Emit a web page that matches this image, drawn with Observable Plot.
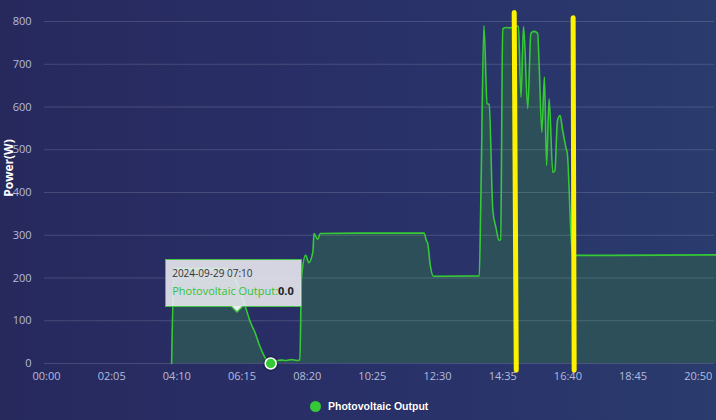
<!DOCTYPE html>
<html>
<head>
<meta charset="utf-8">
<script src="https://cdn.jsdelivr.net/npm/d3@7"></script>
<script src="https://cdn.jsdelivr.net/npm/@observablehq/plot@0.6"></script>
<style>
  html, body { margin: 0; padding: 0; }
  body {
    width: 716px; height: 420px; overflow: hidden; position: relative;
    background: linear-gradient(90deg, #27295d 0%, #293169 55%, #2a3b6d 100%);
    font-family: "Open Sans", sans-serif;
  }
  #chart { position: absolute; left: 0; top: 0; }
  #ytitle {
    position: absolute; left: 8px; top: 168px; white-space: nowrap;
    transform: translate(-50%, -50%) rotate(-90deg);
    color: #ffffff; font: bold 12px "Open Sans", sans-serif;
  }
  #tip {
    position: absolute; box-sizing: border-box; width: 137px; height: 48px;
    background: rgba(236, 237, 242, 0.88); border: 1px solid #45c445;
    padding: 4px 0 0 6px; font-size: 10px; color: #333; line-height: 18px;
  }
  #tip .name { color: #33c233; font-size: 11px; }
  #tip .val { color: #222; font-weight: bold; font-size: 11px; }
  #tip::before, #tip::after {
    content: ""; position: absolute; width: 0; height: 0; border-style: solid;
  }
  #tip::before {
    left: 65px; bottom: -7px;
    border-width: 6px 6px 0 6px; border-color: #45c445 transparent transparent transparent;
  }
  #tip::after {
    left: 66px; bottom: -5px;
    border-width: 5px 5px 0 5px; border-color: rgb(236, 237, 242) transparent transparent transparent;
  }
  #legend {
    position: absolute; left: 310px; top: 398px; height: 16px; display: flex; align-items: center;
    color: #ffffff; font: bold 10.5px "Liberation Sans", Arial, sans-serif;
    text-shadow: 0 0 1px #1a1d44;
  }
  #legend .dot { width: 11px; height: 11px; border-radius: 50%; background: #35c935; margin-right: 7px; }
</style>
</head>
<body>
<div id="chart"></div>
<div id="ytitle">Power(W)</div>
<div id="tip"></div>
<div id="legend"><span class="dot"></span><span id="legendName"></span></div>
<script>
// Photovoltaic output over the day (time of day, watts)
const seriesName = "Photovoltaic Output";
const dateLabel = "2024-09-29";
const times = [
  "04:00", "04:05", "05:45", "05:55", "06:05", "06:15", "06:22", "06:30", "06:40", "06:50",
  "07:00", "07:05", "07:10", "07:20", "07:30", "07:40", "07:50", "08:00", "08:06", "08:09",
  "08:17", "08:23", "08:31", "08:33", "08:40", "08:45", "10:00", "12:04", "12:09", "12:11",
  "12:16", "12:22", "13:50", "13:53", "13:59", "14:05", "14:09", "14:16", "14:22", "14:28",
  "14:31", "14:35", "14:43", "14:49", "15:00", "15:05", "15:10", "15:15", "15:23", "15:29",
  "15:35", "15:42", "15:45", "15:50", "15:55", "15:59", "16:04", "16:11", "16:15", "16:20",
  "16:25", "16:30", "16:36", "16:39", "16:46", "16:49", "18:00", "21:25"
];
const power = [
  0, 222, 222, 212, 190, 158, 131, 100, 72, 38,
  12, 4, 0, 6, 8, 7, 9, 7, 8, 200,
  253, 236, 262, 304, 290, 304, 305, 305, 286, 282,
  230, 204, 205, 380, 790, 608, 606, 358, 318, 288,
  290, 783, 786, 785, 790, 788, 623, 788, 596, 772,
  777, 772, 693, 541, 670, 463, 619, 447, 451, 568,
  580, 545, 506, 490, 300, 253, 253, 254
];
const xTickLabels = ["00:00", "02:05", "04:10", "06:15", "08:20", "10:25", "12:30", "14:35", "16:40", "18:45", "20:50"];
const yTicks = [0, 100, 200, 300, 400, 500, 600, 700, 800];

// Highlighted reading shown in the tooltip
const hoverTime = "07:10";
const hoverValue = 0;

// Two yellow marker strokes drawn across the chart (start/end time and power)
const markerStart = ["14:57", "16:50"];
const markerEnd = ["15:01", "16:52"];
const markerTop = [821, 809];
const markerBottom = [-16, -16];

const toMin = s => { const [h, m] = s.split(":").map(Number); return h * 60 + m; };
const fmt = m => String(Math.floor(m / 60)).padStart(2, "0") + ":" + String(m % 60).padStart(2, "0");

const data = times.map((t, i) => ({t: toMin(t), p: power[i]}));
const markers = markerStart.map((s, i) => ({
  x1: toMin(s), x2: toMin(markerEnd[i]), y1: markerTop[i], y2: markerBottom[i]
}));
const hover = [{t: toMin(hoverTime), p: hoverValue}];

const green = "#35c935";

const chart = Plot.plot({
  width: 716,
  height: 390,
  marginLeft: 46,
  marginRight: 0,
  marginTop: 21,
  marginBottom: 27,
  style: {background: "transparent", fontFamily: "Open Sans, sans-serif", fontSize: "11px", color: "#b4bcdc", overflow: "visible"},
  x: {domain: [0, 1285]},
  y: {domain: [0, 800]},
  marks: [
    Plot.areaY(data, {x: "t", y: "p", fill: "#2c4f5a", curve: "monotone-x"}),
    Plot.ruleY(yTicks, {stroke: "#ffffff", strokeOpacity: 0.15, dx: -2}),
    Plot.axisY(yTicks, {tickSize: 0, tickPadding: 15, label: null, fill: "#b4bcdc"}),
    Plot.axisX(xTickLabels.map(toMin), {tickSize: 0, tickPadding: 9, tickFormat: fmt, label: null, fill: "#b4bcdc"}),
    Plot.lineY(data, {x: "t", y: "p", stroke: green, strokeWidth: 1.6, curve: "monotone-x"}),
    Plot.link(markers, {x1: "x1", y1: "y1", x2: "x2", y2: "y2", stroke: "#fff200", strokeWidth: 5, strokeLinecap: "round"}),
    Plot.dot(hover, {x: "t", y: "p", r: 8, fill: "#000000", fillOpacity: 0.18}),
    Plot.dot(hover, {x: "t", y: "p", r: 5.5, fill: green, stroke: "#ffffff", strokeWidth: 1.5})
  ]
});
document.getElementById("chart").append(chart);

// Tooltip anchored to the highlighted reading
const px = chart.scale("x").apply(hover[0].t);
const py = chart.scale("y").apply(hover[0].p);
const tip = document.getElementById("tip");
tip.style.left = (px - 105) + "px";
tip.style.top = (py - 104) + "px";
tip.innerHTML = `<div>${dateLabel} ${hoverTime}</div><div><span class="name">${seriesName}:</span><span class="val">${hoverValue.toFixed(1)}</span></div>`;

document.getElementById("legendName").textContent = seriesName;
</script>
</body>
</html>
